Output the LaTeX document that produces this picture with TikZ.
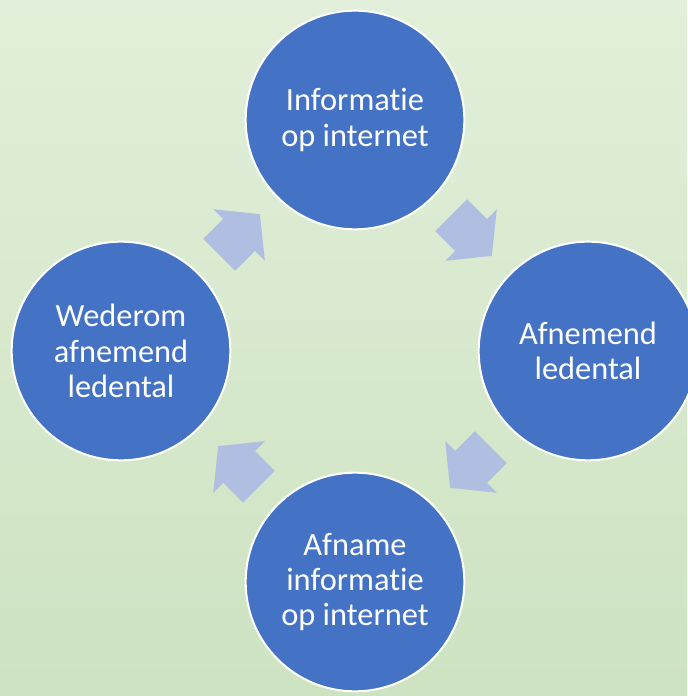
\documentclass[tikz,border=0pt]{standalone}
\usepackage{fontspec}
\setmainfont{Carlito}[RawFeature={-liga;-clig;-calt;-dlig}]
\usetikzlibrary{calc}
\definecolor{bgtop}{RGB}{226,239,218}
\definecolor{bgbot}{RGB}{205,227,193}
\definecolor{cirkelblauw}{RGB}{68,114,196}
\definecolor{pijlblauw}{RGB}{176,190,225}

\begin{document}
\begin{tikzpicture}
[x=0.75pt,y=0.75pt,
stap/.style={circle,draw=white,line width=1.5pt,fill=cirkelblauw,text=white,
  minimum size=164pt,inner sep=0pt,align=center,
  font=\fontsize{24.3}{26.5}\selectfont},
pijl/.style={fill=pijlblauw},]

\shade[top color=bgtop,bottom color=bgbot] (0,0) rectangle (687,696);
\useasboundingbox (0,0) rectangle (687,696);

\coordinate (O) at (355,345);
\node (info) at (355,576)[stap]{Informatie\\op internet};
\node (leden) at (588,345)[stap]{Afnemend\\ledental};
\node (afname) at (355,114)[stap]{Afname\\informatie\\op internet};
\node (wederom) at (121,345)[stap]{Wederom\\afnemend\\ledental};

% pijlen met de klok mee
\foreach \ang in {135,45,-45,-135}
  \fill[pijl,shift={($(O)+(\ang:164)$)},rotate=\ang-90]
    (-28,-22.5) -- (0,-22.5) -- (0,-36.5) -- (29.5,0) -- (0,36.5)
    -- (0,22.5) -- (-28,22.5) -- cycle;

\end{tikzpicture}
\end{document}
